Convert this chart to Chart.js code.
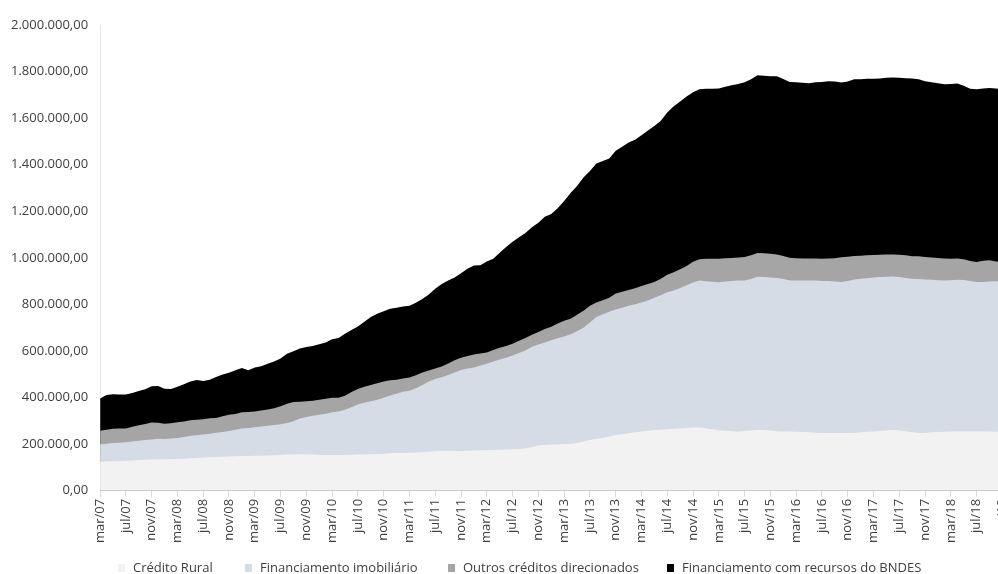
<!DOCTYPE html>
<html lang="pt-BR">
<head>
<meta charset="utf-8">
<title>Crédito direcionado</title>
<script src="https://cdn.jsdelivr.net/npm/chart.js@4.4.1/dist/chart.umd.min.js"></script>
<style>
  html, body { margin: 0; padding: 0; background: #fff; overflow: hidden; }
  #wrap { position: relative; width: 1020px; height: 574px; }
  #legend { position: absolute; left: 0; top: 559px; height: 16px; width: 1000px;
            font-family: "Open Sans", sans-serif; font-size: 13px; color: #404040; }
  .item { position: absolute; top: 0; white-space: nowrap; line-height: 16px; }
  .sw { display: inline-block; width: 7px; height: 8px; margin-right: 8px; vertical-align: -0px; }
</style>
</head>
<body>
<div id="wrap">
  <canvas id="chart"></canvas>
  <div id="legend"></div>
</div>
<script>
// Saldo mensal, mar/07 a nov/18
const MONTHS = ['jan','fev','mar','abr','mai','jun','jul','ago','set','out','nov','dez'];
const START_YEAR = 2007, START_MONTH = 2, N_POINTS = 141;

const creditoRural = [
  125000,126000,127000,127000,128000,130000,132000,133000,134000,135000,
  135000,136000,137000,138000,140000,141000,143000,144000,145000,146000,
  147000,148000,149000,149000,150000,151000,152000,153000,154000,156000,
  156000,157000,157000,156000,154000,154000,154000,154000,154000,155000,
  156000,156000,157000,158000,159000,161000,162000,162000,163000,164000,
  166000,168000,170000,172000,172000,171000,171000,172000,173000,174000,
  174000,175000,176000,177000,178000,179000,182000,188000,194000,197000,
  199000,200000,201000,202000,205000,212000,218000,223000,227000,233000,
  240000,243000,247000,251000,255000,258000,261000,262000,264000,266000,
  268000,270000,272000,272000,269000,264000,259000,258000,256000,255000,
  257000,259000,261000,261000,259000,256000,255000,255000,254000,252000,
  251000,249000,248000,248000,248000,248000,248000,248000,251000,253000,
  255000,257000,259000,261000,260000,256000,251000,248000,248000,251000,
  252000,254000,255000,255000,255000,255000,255000,255000,255000,254000,
  253000
];
const financiamentoImobiliario = [
  75000,76000,78000,79000,80000,82000,83000,85000,86000,88000,
  87000,89000,90000,93000,96000,98000,99000,101000,104000,106000,
  110000,114000,119000,121000,123000,125000,127000,130000,132000,135000,
  143000,153000,160000,166000,172000,177000,183000,187000,194000,204000,
  214000,222000,228000,233000,241000,248000,255000,263000,267000,276000,
  288000,301000,310000,315000,325000,337000,348000,353000,356000,364000,
  372000,380000,388000,394000,403000,413000,420000,430000,434000,440000,
  447000,455000,462000,470000,480000,488000,505000,523000,531000,536000,
  538000,543000,548000,550000,553000,559000,568000,578000,588000,594000,
  603000,613000,622000,631000,631000,634000,636000,641000,645000,648000,
  646000,650000,658000,657000,657000,658000,654000,648000,649000,651000,
  652000,654000,653000,653000,651000,648000,653000,659000,660000,660000,
  661000,661000,660000,659000,658000,658000,660000,661000,659000,655000,
  652000,649000,649000,651000,650000,646000,642000,641000,644000,646000,
  646000
];
const outrosCreditos = [
  58000,60000,61000,61000,60000,63000,66000,69000,73000,69000,
  66000,65000,67000,67000,67000,66000,65000,66000,64000,68000,
  69000,68000,69000,68000,68000,69000,70000,71000,77000,83000,
  82000,72000,67000,65000,65000,64000,63000,58000,60000,65000,
  67000,69000,69000,71000,69000,66000,60000,57000,56000,56000,
  54000,48000,45000,47000,50000,52000,52000,54000,56000,52000,
  48000,50000,50000,51000,50000,52000,54000,52000,54000,58000,
  58000,63000,67000,67000,71000,73000,71000,63000,60000,60000,
  69000,69000,67000,69000,71000,71000,67000,71000,76000,78000,
  80000,82000,89000,91000,96000,98000,101000,99000,99000,99000,
  101000,102000,102000,102000,102000,101000,99000,98000,95000,94000,
  94000,94000,95000,96000,99000,107000,104000,101000,98000,98000,
  96000,95000,96000,95000,95000,97000,96000,98000,97000,96000,
  96000,94000,92000,91000,89000,86000,85000,92000,91000,85000,
  83000
];
const recursosBndes = [
  138000,149000,149000,147000,146000,145000,147000,149000,156000,158000,
  150000,147000,153000,160000,166000,171000,164000,166000,176000,179000,
  181000,188000,190000,180000,188000,190000,197000,201000,205000,214000,
  218000,229000,233000,235000,238000,242000,251000,257000,266000,266000,
  268000,279000,292000,298000,302000,307000,309000,309000,308000,311000,
  315000,326000,343000,354000,356000,356000,363000,374000,382000,378000,
  391000,391000,408000,425000,438000,445000,451000,462000,469000,482000,
  484000,495000,514000,540000,553000,572000,579000,596000,598000,598000,
  613000,622000,633000,637000,648000,659000,670000,678000,696000,713000,
  721000,728000,728000,730000,730000,730000,731000,737000,741000,745000,
  750000,756000,763000,762000,762000,765000,760000,754000,756000,755000,
  753000,757000,759000,762000,759000,750000,752000,759000,758000,758000,
  757000,757000,758000,760000,760000,760000,763000,760000,754000,752000,
  750000,749000,751000,752000,745000,739000,742000,739000,739000,742000,
  742000
];

const SERIES_NAMES = ['Crédito Rural', 'Financiamento imobiliário',
                      'Outros créditos direcionados', 'Financiamento com recursos do BNDES'];
const SERIES_COLORS = ['#f2f2f2', '#d6dce5', '#a5a5a5', '#000000'];
const Y_TICK_STEP = 200000, Y_MAX = 2000000;

const monthLabels = [];
for (let k = 0; k < N_POINTS; k++) {
  const m = START_MONTH + k;
  const yy = START_YEAR + Math.floor(m / 12);
  monthLabels.push(MONTHS[m % 12] + '/' + String(yy % 100).padStart(2, '0'));
}

function formatBR(v) {
  const s = Math.round(v).toString().replace(/\B(?=(\d{3})+(?!\d))/g, '.');
  return s + ',00';
}

const seriesValues = [creditoRural, financiamentoImobiliario, outrosCreditos, recursosBndes];
const datasets = seriesValues.map((vals, k) => ({
  label: SERIES_NAMES[k],
  data: vals,
  backgroundColor: SERIES_COLORS[k],
  borderColor: SERIES_COLORS[k],
  borderWidth: 0,
  pointRadius: 0,
  tension: 0,
  fill: 'origin'
}));

const tickFont = { family: '"Open Sans", sans-serif', size: 13 };
const tickColor = '#404040';

new Chart(document.getElementById('chart'), {
  type: 'line',
  data: { labels: monthLabels, datasets },
  options: {
    responsive: true,
    maintainAspectRatio: false,
    animation: false,
    events: [],
    layout: { padding: { left: 7, right: 0, top: 25, bottom: 29 } },
    plugins: { legend: { display: false }, tooltip: { enabled: false } },
    scales: {
      x: {
        offset: false,
        grid: { drawOnChartArea: false, drawTicks: true, tickLength: 6, color: '#d9d9d9' },
        border: { color: '#d9d9d9' },
        ticks: {
          autoSkip: false, maxRotation: 90, minRotation: 90, padding: 2,
          font: tickFont, color: tickColor,
          callback: (v, i) => (i % 4 === 0 ? monthLabels[i] : null)
        }
      },
      y: {
        stacked: true,
        min: 0, max: Y_MAX,
        grid: { display: false },
        border: { color: '#e6e6e6' },
        ticks: { stepSize: Y_TICK_STEP, padding: 4, font: tickFont, color: tickColor,
                 callback: v => formatBR(v) }
      }
    }
  }
});

// Legenda
const legend = document.getElementById('legend');
const LEGEND_X = [118, 245, 448, 667];
SERIES_NAMES.forEach((name, k) => {
  const it = document.createElement('div');
  it.className = 'item';
  it.style.left = LEGEND_X[k] + 'px';
  const sw = document.createElement('span');
  sw.className = 'sw';
  sw.style.background = SERIES_COLORS[k];
  it.appendChild(sw);
  it.appendChild(document.createTextNode(name));
  legend.appendChild(it);
});
</script>
</body>
</html>
